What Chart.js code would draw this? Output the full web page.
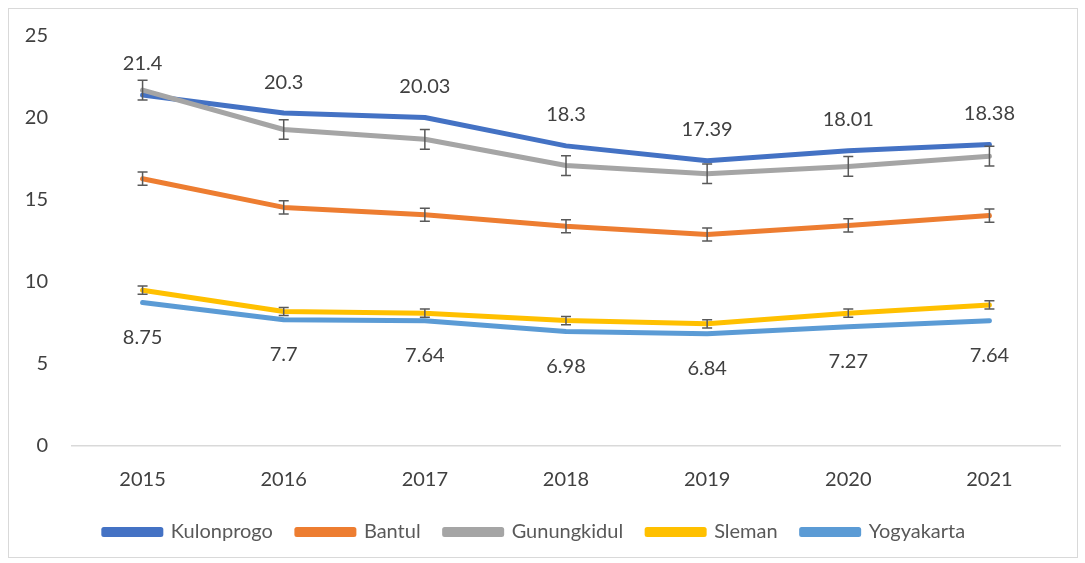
<!DOCTYPE html>
<html lang="en">
<head>
<meta charset="UTF-8">
<title>Kabupaten chart</title>
<script src="https://cdn.jsdelivr.net/npm/chart.js"></script>
<style>
  body { margin: 0; background: #fff; }
  .box { position: absolute; left: 8px; top: 8px; width: 1068px; height: 548px; border: 1px solid #d9d9d9; }
</style>
</head>
<body>
<div class="box">
  <canvas id="grafico" width="1068" height="548"></canvas>
</div>
<script>
// dados
var anos = ['2015', '2016', '2017', '2018', '2019', '2020', '2021'];
var kulonprogo = [21.4, 20.3, 20.03, 18.3, 17.39, 18.01, 18.38];
var bantul = [16.3, 14.55, 14.1, 13.4, 12.9, 13.45, 14.05];
var gunungkidul = [21.7, 19.3, 18.7, 17.1, 16.6, 17.05, 17.67];
var sleman = [9.5, 8.2, 8.1, 7.65, 7.45, 8.1, 8.6];
var yogyakarta = [8.75, 7.7, 7.64, 6.98, 6.84, 7.27, 7.64];
var errBantul = [0.4, 0.4, 0.4, 0.4, 0.4, 0.4, 0.4];
var errGunungkidul = [0.6, 0.6, 0.6, 0.6, 0.6, 0.6, 0.6];
var errSleman = [0.25, 0.25, 0.25, 0.25, 0.25, 0.25, 0.25];
var yTicks = [0, 5, 10, 15, 20, 25];

var fonte = 'Lato, "Liberation Sans", sans-serif';
var corTexto = '#404040';

// barras de erro
var pluginErro = {
  id: 'erro',
  afterDatasetsDraw: function (chart) {
    var ctx = chart.ctx;
    var yScale = chart.scales.y;
    ctx.save();
    ctx.strokeStyle = '#595959';
    ctx.lineWidth = 1.5;
    chart.data.datasets.forEach(function (ds, i) {
      if (!ds.erro) return;
      var meta = chart.getDatasetMeta(i);
      meta.data.forEach(function (pt, j) {
        var v = ds.data[j], e = ds.erro[j];
        var y1 = yScale.getPixelForValue(v + e);
        var y2 = yScale.getPixelForValue(v - e);
        ctx.beginPath();
        ctx.moveTo(pt.x, y1); ctx.lineTo(pt.x, y2);
        ctx.moveTo(pt.x - 5, y1); ctx.lineTo(pt.x + 5, y1);
        ctx.moveTo(pt.x - 5, y2); ctx.lineTo(pt.x + 5, y2);
        ctx.stroke();
      });
    });
    ctx.restore();
  }
};

// rotulos de dados
var pluginRotulos = {
  id: 'rotulos',
  afterDatasetsDraw: function (chart) {
    var ctx = chart.ctx;
    ctx.save();
    ctx.font = '20px ' + fonte;
    ctx.fillStyle = corTexto;
    ctx.textAlign = 'center';
    ctx.textBaseline = 'middle';
    chart.data.datasets.forEach(function (ds, i) {
      if (!ds.rotulo) return;
      var meta = chart.getDatasetMeta(i);
      meta.data.forEach(function (pt, j) {
        var dy = ds.rotulo === 'acima' ? -31 : 35;
        ctx.fillText(String(ds.data[j]), pt.x, pt.y + dy);
      });
    });
    ctx.restore();
  }
};

function serie(nome, dados, cor, ordem, extra) {
  var d = {
    label: nome,
    data: dados,
    borderColor: cor,
    backgroundColor: cor,
    borderWidth: 5,
    pointRadius: 0,
    pointHoverRadius: 0,
    tension: 0,
    borderCapStyle: 'round',
    borderJoinStyle: 'round',
    order: ordem
  };
  return Object.assign(d, extra || {});
}

var ctxLinha = document.getElementById('grafico').getContext('2d');
var grafico = new Chart(ctxLinha, {
  type: 'line',
  data: {
    labels: anos,
    datasets: [
      serie('Kulonprogo', kulonprogo, '#4472C4', 4, { rotulo: 'acima' }),
      serie('Bantul', bantul, '#ED7D31', 3, { erro: errBantul }),
      serie('Gunungkidul', gunungkidul, '#A5A5A5', 2, { erro: errGunungkidul }),
      serie('Sleman', sleman, '#FFC000', 1, { erro: errSleman }),
      serie('Yogyakarta', yogyakarta, '#5B9BD5', 0, { rotulo: 'abaixo' })
    ]
  },
  options: {
    responsive: false,
    animation: false,
    layout: { padding: { top: 27, right: 17, left: 0, bottom: 5 } },
    scales: {
      x: {
        offset: true,
        grid: { display: false, drawTicks: false },
        border: { display: true, color: '#d9d9d9', width: 1.5 },
        ticks: { color: corTexto, font: { family: fonte, size: 20 }, padding: 22 },
        afterFit: function (s) { s.height = 52; s.paddingLeft = 0; s.paddingRight = 0; }
      },
      y: {
        min: 0,
        max: 25,
        afterBuildTicks: function (s) { s.ticks = yTicks.map(function (v) { return { value: v }; }); },
        grid: { display: false, drawTicks: false },
        border: { display: false },
        ticks: { color: corTexto, font: { family: fonte, size: 20 }, padding: 24 },
        afterFit: function (s) { s.width = 63; s.paddingTop = 0; s.paddingBottom = 0; }
      }
    },
    plugins: {
      tooltip: { enabled: false },
      legend: {
        position: 'bottom',
        labels: {
          boxWidth: 57,
          boxHeight: 5,
          padding: 24,
          color: '#595959',
          font: { family: fonte, size: 20 },
          sort: function (a, b) { return a.datasetIndex - b.datasetIndex; }
        }
      }
    }
  },
  plugins: [pluginErro, pluginRotulos]
});
</script>
</body>
</html>
